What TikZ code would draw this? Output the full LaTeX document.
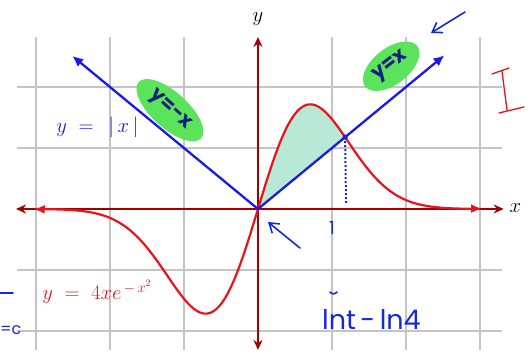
\documentclass[tikz,border=0pt]{standalone}
\usepackage{fontspec}
\newfontfamily\hand{Poppins}
\usetikzlibrary{arrows.meta,shapes.geometric}
\definecolor{axisred}{HTML}{A00000}
\definecolor{curvered}{HTML}{E8141B}
\definecolor{lineblue}{HTML}{1A1AE6}
\definecolor{shadecol}{HTML}{B8E8D6}
\definecolor{hlgreen}{HTML}{5BE35B}
\definecolor{ink}{HTML}{1428D8}
\definecolor{navy}{HTML}{10207A}
\definecolor{gridgray}{HTML}{C4C4C4}
\tikzset{
  gridline/.style={gridgray, line width=1.1pt},
  axisline/.style={axisred, line width=2pt, {Stealth[length=10pt,width=9pt]}-{Stealth[length=10pt,width=9pt]}},
  curveline/.style={curvered, line width=2.2pt, {Latex[length=11pt,width=9pt]}-{Latex[length=11pt,width=9pt]}},
  absline/.style={lineblue, line width=2.3pt, {Latex[length=11pt,width=10pt]}-{Latex[length=11pt,width=10pt]}},
  hlnode/.style={fill=hlgreen, ellipse, inner sep=1pt, text=navy, font=\hand\bfseries\fontsize{20}{20}\selectfont},
  handink/.style={ink, line width=1.6pt, line cap=round},
  mathlabel/.style={font=\fontsize{20}{22}\selectfont}
}
\begin{document}
\begin{tikzpicture}[x=74pt,y=61pt]
\useasboundingbox (-3.486,-2.475) rectangle (3.676,3.426);
% grid
\foreach \gx in {-3,-2,-1,1,2,3} \draw[gridline] (\gx,-2.31) -- (\gx,2.82);
\foreach \gy in {-2,-1,1,2} \draw[gridline] (-3.26,\gy) -- (3.30,\gy);
% shaded region
\fill[shadecol] plot[domain=0:1.1774,samples=60] (\x,{4*\x*exp(-\x*\x)}) -- cycle;
% axes
\coordinate (O) at (0,0);
\coordinate (XL) at (-3.27,0);
\coordinate (XR) at (3.32,0);
\coordinate (YB) at (0,-2.31);
\coordinate (YT) at (0,2.82);
\draw[axisline] (XL) -- (XR);
\draw[axisline] (YB) -- (YT);
\node[mathlabel, font=\fontsize{21}{22}\selectfont] (ylab) at (0,3.12) {$y$};
\node[mathlabel, font=\fontsize{21}{22}\selectfont] (xlab) at (3.48,0.02) {$x$};
% curve
\draw[curveline] plot[domain=-3.03:3.03,samples=200,smooth] (\x,{4*\x*exp(-\x*\x)});
% y = |x|
\coordinate (AL) at (-2.51,2.51);
\coordinate (AR) at (2.52,2.52);
\draw[absline] (AL) -- (O) -- (AR);
% intersection
\coordinate (I) at (1.1774,1.1774);
\coordinate (Ib) at (1.19,0.1);
\fill[lineblue] (I) circle (2.6pt);
\draw[ink, line width=2pt, dotted] (I) -- (Ib);
% labels
\node[mathlabel, text=lineblue] (abslab) at (-2.17,1.34) {$y\;=\;\,|\,x\,|$};
\node[mathlabel, font=\fontsize{20}{22}\selectfont, text=curvered, anchor=west] (curvelab) at (-2.96,-1.36) {$y\;=\;4xe^{\,-\,x^{2}}$};
% handwritten highlights
\node[hlnode, rotate=-42, minimum width=84pt, minimum height=36pt] (hl1) at (-1.19,1.62) {y=-x};
\node[hlnode, rotate=38, minimum width=66pt, minimum height=36pt] (hl2) at (1.80,2.34) {y=x};
% handwritten marks in pixel coordinates
\begin{scope}[shift={(-258pt,209pt)}, x=1pt, y=-1pt]
  \coordinate (a1s) at (465,12);
  \coordinate (a1e) at (431,33);
  \draw[handink, -{Straight Barb[length=9pt,width=12pt]}] (a1s) -- (a1e);
  \coordinate (a2s) at (300,248);
  \coordinate (a2e) at (268,222);
  \draw[handink, -{Straight Barb[length=9pt,width=12pt]}] (a2s) -- (a2e);
  \node[ink, font=\hand\fontsize{18}{18}\selectfont] (one) at (332,228) {1};
  \draw[curvered, line width=1.3pt, line cap=round] (492,74) -- (509,68) (502,71) -- (507,110) (499,113) -- (524,107);
  \node[ink, font=\hand\fontsize{27}{28}\selectfont, anchor=west, inner sep=0pt] (bottomtext) at (322,320) {lnt\,-\,ln4};
  \draw[handink] (330,292) to[bend right=60] (337,292);
  \draw[handink] (0,293) -- (13,293);
  \node[ink, font=\hand\fontsize{16}{16}\selectfont, anchor=west, inner sep=0pt] (eqc) at (0,330) {=c};
\end{scope}
\end{tikzpicture}
\end{document}
